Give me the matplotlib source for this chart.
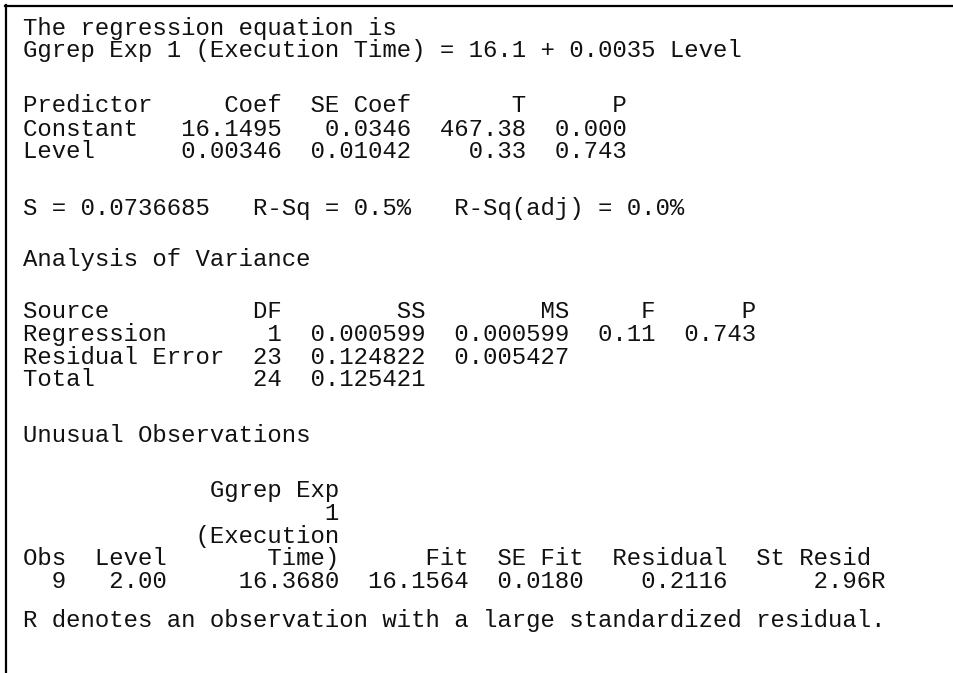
import matplotlib
matplotlib.use("Agg")
import matplotlib.pyplot as plt
from matplotlib.lines import Line2D

W, H, DPI = 954, 673, 100

# ---- data -------------------------------------------------------------
response = "Ggrep Exp 1 (Execution Time)"
response_wrapped = ["Ggrep Exp", "1", "(Execution", "Time)"]
predictor = "Level"
eq_const = "16.1"
eq_slope = "0.0035"

pred_names = ["Constant", "Level"]
coef = ["16.1495", "0.00346"]
se_coef = ["0.0346", "0.01042"]
t_stat = ["467.38", "0.33"]
p_coef = ["0.000", "0.743"]

s_val = "0.0736685"
r_sq = "0.5%"
r_sq_adj = "0.0%"

anova_src = ["Regression", "Residual Error", "Total"]
anova_df = ["1", "23", "24"]
anova_ss = ["0.000599", "0.124822", "0.125421"]
anova_ms = ["0.000599", "0.005427", ""]
anova_f = ["0.11", "", ""]
anova_p = ["0.743", "", ""]

unu_obs = ["9"]
unu_level = ["2.00"]
unu_y = ["16.3680"]
unu_fit = ["16.1564"]
unu_sefit = ["0.0180"]
unu_resid = ["0.2116"]
unu_stresid = ["2.96"]
unu_flag = ["R"]

# ---- build text lines -------------------------------------------------
lines = []
lines.append("The regression equation is")
lines.append(f"{response} = {eq_const} + {eq_slope} {predictor}")
lines.append(f"{'Predictor':<9}{'Coef':>9}{'SE Coef':>9}{'T':>8}{'P':>7}")
for n, c, s, t, p in zip(pred_names, coef, se_coef, t_stat, p_coef):
    lines.append(f"{n:<9}{c:>9}{s:>9}{t:>8}{p:>7}")
lines.append(f"S = {s_val}   R-Sq = {r_sq}   R-Sq(adj) = {r_sq_adj}")
lines.append("Analysis of Variance")
lines.append(f"{'Source':<14}{'DF':>4}{'SS':>10}{'MS':>10}{'F':>6}{'P':>7}")
for row in zip(anova_src, anova_df, anova_ss, anova_ms, anova_f, anova_p):
    src, d, ss, ms, f, p = row
    lines.append(f"{src:<14}{d:>4}{ss:>10}{ms:>10}{f:>6}{p:>7}".rstrip())
lines.append("Unusual Observations")
for part in response_wrapped[:-1]:
    lines.append(f"{'':3}{'':7}{part:>12}")
lines.append(f"{'Obs':>3}{'Level':>7}{response_wrapped[-1]:>12}{'Fit':>9}"
             f"{'SE Fit':>8}{'Residual':>10}{'St Resid':>10}")
for o, l, y, fi, se, r, sr, fl in zip(unu_obs, unu_level, unu_y, unu_fit,
                                      unu_sefit, unu_resid, unu_stresid, unu_flag):
    lines.append(f"{o:>3}{l:>7}{y:>12}{fi:>9}{se:>8}{r:>10}{sr:>10}{fl}")
lines.append("R denotes an observation with a large standardized residual.")

# vertical centre (pixels from top) of each text line
y_centres = [28, 50, 106, 129, 152, 208, 260, 311, 334, 357, 380,
             436, 490, 513, 536, 559, 582, 621]

fig = plt.figure(figsize=(W / DPI, H / DPI), dpi=DPI)
fig.patch.set_facecolor("white")

x0 = 23
for txt, yc in zip(lines, y_centres):
    fig.text(x0 / W, 1 - (yc + 6.5) / H, txt, family="Liberation Mono",
             fontsize=17.28, color="#111111", va="baseline", ha="left")

# frame (top and left edges)
fig.add_artist(Line2D([5 / W, 1.0], [1 - 6 / H, 1 - 6 / H], color="black",
                      lw=1.6, transform=fig.transFigure))
fig.add_artist(Line2D([6 / W, 6 / W], [1 - 5 / H, 0.0], color="black",
                      lw=1.6, transform=fig.transFigure))

fig.savefig("out.png", dpi=DPI, facecolor="white")
